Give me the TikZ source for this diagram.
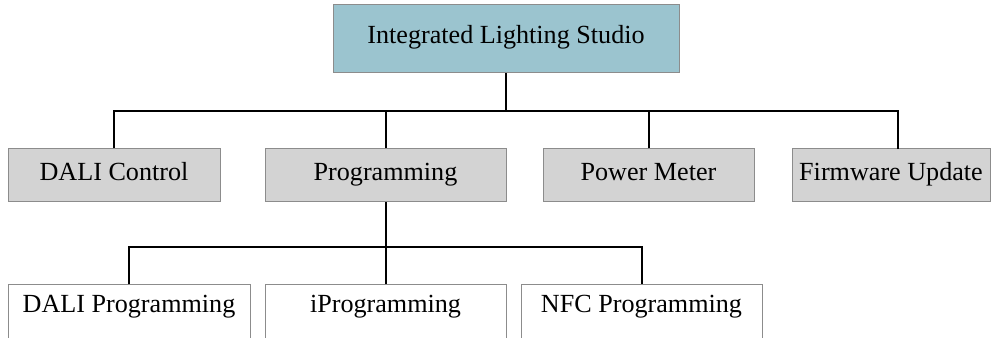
\documentclass[tikz,border=0pt]{standalone}
\usepackage{fontspec}
\setmainfont{Liberation Serif}
\usepackage{xcolor}

\definecolor{rootfill}{RGB}{155,196,207}
\definecolor{boxfill}{RGB}{211,211,211}
\definecolor{boxline}{RGB}{140,140,140}

\begin{document}
\begin{tikzpicture}[x=0.75pt,y=0.75pt,yscale=-1,xscale=1,
  box/.style={draw=boxline, line width=0.75, inner sep=0pt, align=center,
    font=\fontsize{19.6}{23}\selectfont, text height=0.68em, text depth=0em},
  rootbox/.style={box, fill=rootfill, minimum width=259.5pt, minimum height=51pt},
  midbox/.style={box, fill=boxfill, minimum height=39.75pt},
  leafbox/.style={box, fill=white, minimum height=41.25pt, text depth=0.72em},
  wire/.style={line width=1.5, color=black}]
\useasboundingbox (0,0) rectangle (993,338);

%Shape: Rectangle [root]
\node [rootbox] (root) at (506,39) {Integrated Lighting Studio};

%Shape: Rectangle [second row]
\node [midbox, minimum width=159pt] (dali) at (114,175.5) {DALI Control};
\node [midbox, minimum width=180.75pt] (prog) at (385.5,175.5) {Programming};
\node [midbox, minimum width=158.25pt] (meter) at (648.5,175.5) {Power Meter};
\node [midbox, minimum width=148.5pt] (fw) at (891,175.5) {Firmware Update};

%Shape: Rectangle [third row]
\node [leafbox, minimum width=181.5pt] (dprog) at (129,312.5) {DALI Programming};
\node [leafbox, minimum width=180.75pt] (iprog) at (385.5,312.5) {iProgramming};
\node [leafbox, minimum width=180.75pt] (nfc) at (641.5,312.5) {NFC Programming};

%Junctions
\coordinate (bus1) at (506,111);
\coordinate (fwtop) at (898,149);
\coordinate (bus2) at (385.5,247);

%Straight Lines [root to second row]
\draw [wire] (root.south) -- (bus1);
\draw [wire] (dali.north) |- (bus1) -| (fwtop);
\draw [wire] (prog.north) -- (prog.north |- bus1);
\draw [wire] (meter.north) -- (meter.north |- bus1);

%Straight Lines [programming to third row]
\draw [wire] (prog.south) -- (iprog.north);
\draw [wire] (dprog.north) |- (bus2) -| (nfc.north);

\end{tikzpicture}
\end{document}
